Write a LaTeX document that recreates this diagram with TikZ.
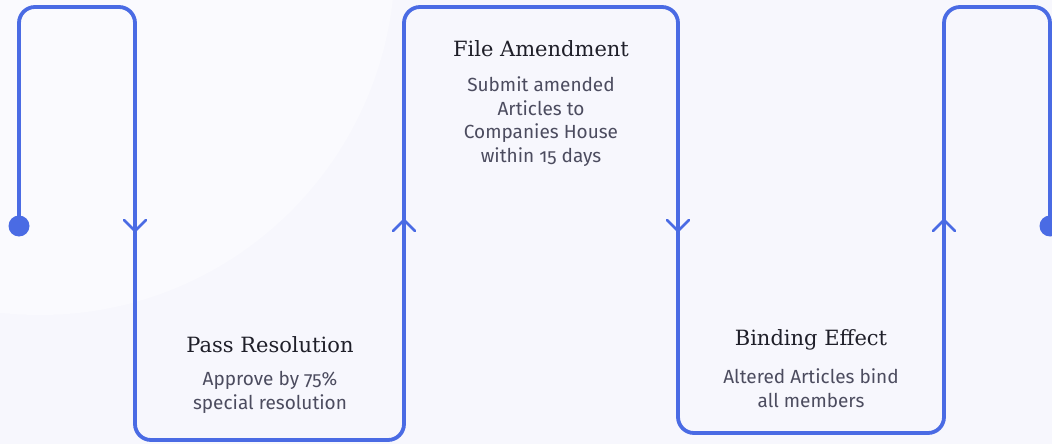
\documentclass[tikz,border=0pt]{standalone}
\usepackage{fontspec}
\setmainfont{Fira Sans}[Numbers=OldStyle]
\newfontfamily\headfont{DejaVu Serif}
\usepackage{tikz}
\usetikzlibrary{calc,positioning}

\definecolor{pathblue}{HTML}{4A6BE4}
\definecolor{paper}{HTML}{F7F7FD}
\definecolor{paperlight}{HTML}{FAFAFE}
\definecolor{headink}{HTML}{1F1F29}
\definecolor{bodyink}{HTML}{4C4C5F}

\begin{document}
\begin{tikzpicture}[x=1pt,y=-1pt]
    \tikzset{
        timeline/.style={line width=3.8pt, pathblue, rounded corners=16pt},
        chevron/.style={line width=2.6pt, pathblue, line cap=round, line join=round},
        head/.style={font=\headfont\fontsize{21}{24}\selectfont, text=headink, inner sep=0pt},
        body/.style={font=\fontsize{19}{23.7}\selectfont, text=bodyink, align=center, inner sep=0pt}
    }
    % Background
    \useasboundingbox (0,0) rectangle (1052,444);
    \clip (0,0) rectangle (1052,444);
    \fill[paper] (0,0) rectangle (1052,444);
    \fill[paperlight] (40,-40) circle (355);

    % Snake line
    \coordinate (start) at (19,226);
    \coordinate (end) at (1050,226);
    \draw[timeline] (start) -- (19,7) -- (135,7) -- (135,440) -- (404,440) -- (404,7)
        -- (678,7) -- (678,433) -- (944,433) -- (944,7) -- (1050,7) -- (end);
    \fill[pathblue] (start) circle (10.5);
    \fill[pathblue] (end) circle (10.5);

    % Direction marks
    \foreach \x in {135,678}
        \draw[chevron] (\x-11,220) -- (\x,231) -- (\x+11,220);
    \foreach \x in {404,944}
        \draw[chevron] (\x-11,231) -- (\x,220) -- (\x+11,231);

    % Steps
    \node[head, anchor=base] (pass) at (270,352) {Pass Resolution};
    \node[body, below=19pt of pass] (passtxt) {Approve by 75\%\\special resolution};

    \node[head, anchor=base] (file) at (541,57) {File Amendment};
    \node[body, below=19pt of file] (filetxt) {Submit amended\\Articles to\\Companies House\\within 15 days};

    \node[head, anchor=base] (bind) at (811,345) {Binding Effect};
    \node[body, below=19pt of bind] (bindtxt) {Altered Articles bind\\all members};
\end{tikzpicture}
\end{document}
